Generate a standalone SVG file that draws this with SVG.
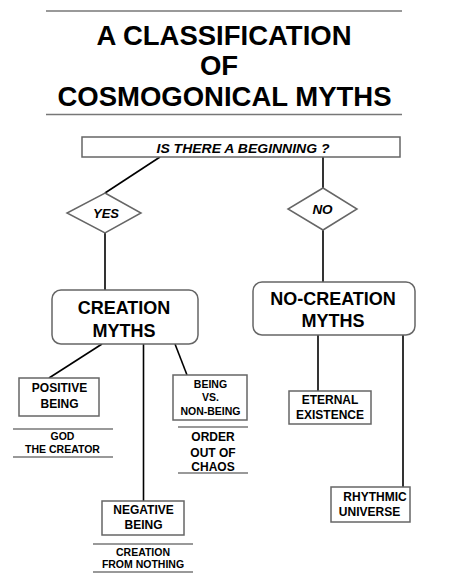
<svg xmlns="http://www.w3.org/2000/svg" width="449" height="587" viewBox="0 0 449 587">
<style>
text{font-family:"Liberation Sans",Arial,sans-serif;font-weight:bold;fill:#000;text-anchor:middle}
.t{font-size:27.5px}
.box{fill:#fff;stroke:#666;stroke-width:1.5}
.rule{stroke:#777;stroke-width:1.5}
.c{stroke:#000;stroke-width:1.6;fill:none}
.it{font-style:italic}
.big{font-size:18px}
.m{font-size:12px}
.s{font-size:10.5px}
</style>
<rect width="449" height="587" fill="#fff"/>
<g id="title">
<line class="rule" x1="46" y1="11" x2="402" y2="11"/>
<text class="t" x="224" y="45">A CLASSIFICATION</text>
<text class="t" x="219" y="75">OF</text>
<text class="t" x="224.5" y="106">COSMOGONICAL MYTHS</text>
<line class="rule" x1="46" y1="114.5" x2="402" y2="114.5"/>
</g>
<g id="connectors">
<line class="c" x1="160" y1="157" x2="105" y2="193" stroke-width="2"/>
<line class="c" x1="105" y1="233" x2="105" y2="290"/>
<line class="c" x1="323" y1="157" x2="323" y2="188"/>
<line class="c" x1="323" y1="230" x2="323" y2="282" stroke-width="2"/>
<line class="c" x1="102" y1="344" x2="49" y2="378"/>
<line class="c" x1="143.5" y1="344" x2="143.5" y2="501"/>
<line class="c" x1="175" y1="344" x2="187" y2="375" stroke-width="1"/>
<line class="c" x1="318" y1="335" x2="318" y2="391"/>
<line class="c" x1="403" y1="335" x2="403" y2="487"/>
</g>
<g id="question">
<rect class="box" x="82" y="137" width="318" height="20"/>
<text class="it" x="243" y="152.7" font-size="12" textLength="173" lengthAdjust="spacingAndGlyphs">IS THERE A BEGINNING ?</text>
</g>
<g id="yes">
<polygon class="box" points="105,193 141,213 105,233 67,213"/>
<text class="it" x="106" y="218" font-size="13">YES</text>
</g>
<g id="no">
<polygon class="box" points="323,188 357,209 323,230 288,209"/>
<text class="it" x="322.5" y="214" font-size="13.5">NO</text>
</g>
<g id="creation">
<rect class="box" x="52" y="290" width="146" height="54" rx="9"/>
<text class="big" x="124" y="314">CREATION</text>
<text class="big" x="124" y="337">MYTHS</text>
</g>
<g id="no-creation">
<rect class="box" x="253" y="282" width="162" height="53" rx="9"/>
<text class="big" x="333" y="305">NO-CREATION</text>
<text class="big" x="333" y="327">MYTHS</text>
</g>
<g id="positive-being">
<rect class="box" x="19" y="378" width="80" height="38"/>
<text class="m" x="59.5" y="392">POSITIVE</text>
<text class="m" x="59.5" y="408">BEING</text>
</g>
<g id="god-the-creator">
<line class="rule" x1="13" y1="429" x2="113" y2="429"/>
<text class="s" x="62.5" y="440">GOD</text>
<text class="s" x="62.5" y="453">THE CREATOR</text>
<line class="rule" x1="13" y1="457" x2="113" y2="457" stroke-width="1"/>
</g>
<g id="being-vs-non-being">
<rect class="box" x="173" y="375" width="74" height="45"/>
<text class="s" x="210.5" y="388">BEING</text>
<text class="s" x="210.5" y="401">VS.</text>
<text class="s" x="210.5" y="415">NON-BEING</text>
</g>
<g id="order-out-of-chaos">
<line class="rule" x1="178" y1="427" x2="248" y2="427" stroke-width="1"/>
<text class="m" x="213" y="441">ORDER</text>
<text class="m" x="213" y="457">OUT OF</text>
<text class="m" x="213" y="471">CHAOS</text>
<line class="rule" x1="178" y1="473" x2="248" y2="473" stroke-width="1"/>
</g>
<g id="negative-being">
<rect class="box" x="102" y="501" width="82" height="34"/>
<text class="m" x="143.5" y="514">NEGATIVE</text>
<text class="m" x="143.5" y="529">BEING</text>
</g>
<g id="creation-from-nothing">
<line class="rule" x1="93" y1="544" x2="193" y2="544"/>
<text class="s" x="143" y="556">CREATION</text>
<text class="s" x="143" y="568">FROM NOTHING</text>
<line class="rule" x1="93" y1="572" x2="193" y2="572" stroke-width="1"/>
</g>
<g id="eternal-existence">
<rect class="box" x="289" y="391" width="82" height="33"/>
<text class="m" x="330" y="404" font-size="11.5">ETERNAL</text>
<text class="m" x="330" y="419" font-size="11.5">EXISTENCE</text>
</g>
<g id="rhythmic-universe">
<rect class="box" x="331" y="487" width="79" height="35"/>
<text class="m" x="375" y="501">RHYTHMIC</text>
<text class="m" x="369.5" y="516">UNIVERSE</text>
</g>
</svg>
